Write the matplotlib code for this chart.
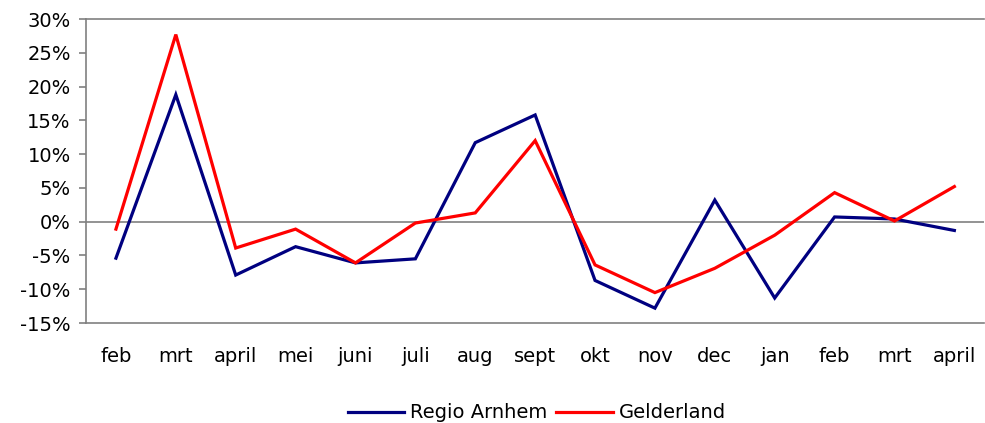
import matplotlib.pyplot as plt
from matplotlib.ticker import FuncFormatter

months = ["feb", "mrt", "april", "mei", "juni", "juli", "aug", "sept",
          "okt", "nov", "dec", "jan", "feb", "mrt", "april"]
regio_arnhem = [-5.4, 18.8, -7.9, -3.7, -6.1, -5.5, 11.7, 15.8,
                -8.7, -12.8, 3.2, -11.3, 0.7, 0.4, -1.3]
gelderland = [-1.1, 27.7, -3.9, -1.1, -6.1, -0.2, 1.3, 12.0,
              -6.4, -10.5, -6.9, -2.0, 4.3, 0.1, 5.2]

plt.rcParams['font.family'] = ['DejaVu Sans']
grey = '#808080'

fig = plt.figure(figsize=(9.85, 4.23), dpi=100)
ax = fig.add_axes([0.0873, 0.2364, 0.912, 0.7186])

x = range(len(months))
ax.plot(x, regio_arnhem, color='#000080', lw=2.3, label='Regio Arnhem', solid_joinstyle='miter')
ax.plot(x, gelderland, color='#FF0000', lw=2.3, label='Gelderland', solid_joinstyle='miter')
ax.axhline(0, color=grey, lw=1.2, zorder=0)

ax.set_xlim(-0.5, len(months) - 0.5)
ax.set_ylim(-15, 30)
ax.set_yticks(range(-15, 31, 5))
ax.yaxis.set_major_formatter(FuncFormatter(lambda v, p: f"{v:.0f}%"))
ax.set_xticks(list(x))
ax.set_xticklabels(months)
ax.tick_params(axis='x', length=0, pad=17, labelsize=14)
ax.tick_params(axis='y', length=5, width=1.2, color=grey, labelsize=14, pad=6)

for s in ['left', 'top', 'bottom']:
    ax.spines[s].set_color(grey)
    ax.spines[s].set_linewidth(1.2)
ax.spines['right'].set_visible(False)

fig.legend(loc='lower center', bbox_to_anchor=(0.545, -0.04), ncol=2, frameon=False,
           fontsize=14, handlelength=2.9, handletextpad=0.3, columnspacing=0.45)

fig.savefig('out.png', dpi=100)
